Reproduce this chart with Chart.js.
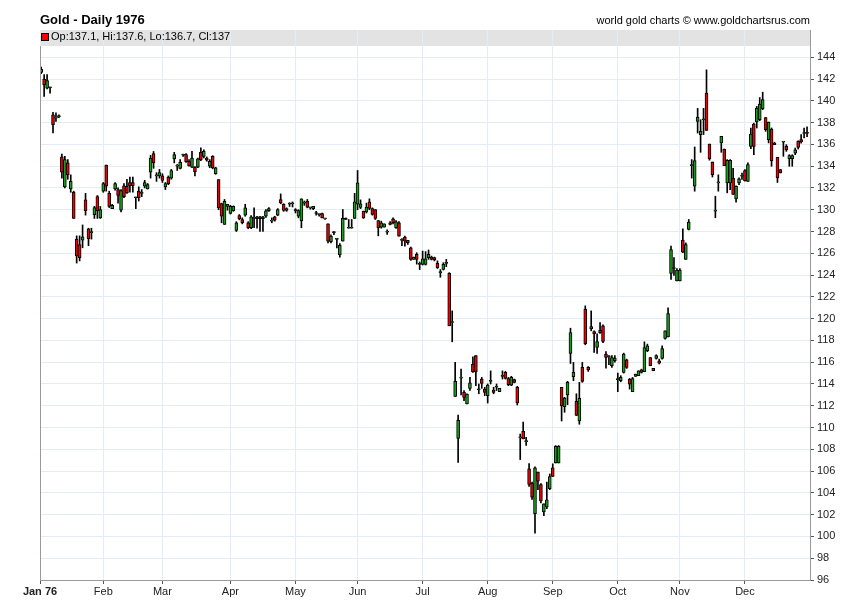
<!DOCTYPE html>
<html>
<head>
<meta charset="utf-8">
<title>Gold - Daily 1976</title>
<script src="https://cdn.jsdelivr.net/npm/chart.js@4.4.1/dist/chart.umd.min.js"></script>
<style>
  html, body { margin: 0; padding: 0; background: #fff; }
  #wrap { width: 850px; height: 616px; }
</style>
</head>
<body>
<div id="wrap"><canvas id="chart-gold" width="850" height="616"></canvas></div>
<script>
// daily OHLC, 1976, one entry per trading day
const opens = [
  142.6, 142.0, 141.15, 141.2, 138.7, 138.4, 138.55, 134.85, 132.1, 134.3,
  131.9, 131.6, 127.3, 126.8, 127.2, 130.9, 128.25, 127.9, 129.55, 131.2,
  129.25, 131.7, 134.1, 131.5, 130.1, 131.9, 131.85, 129.95, 132.2, 132.15,
  132.5, 132.5, 131.1, 131.7, 131.5, 132.15, 131.9, 133.45, 135.15, 133.1,
  133.1, 133.1, 132.1, 133.0, 132.9, 134.66, 134.0, 133.8, 135.0, 135.05,
  134.45, 133.9, 133.9, 133.9, 135.27, 134.9, 134.75, 134.0, 134.9, 133.3,
  132.77, 130.57, 128.65, 130.3, 129.65, 129.9, 128.1, 129.47, 129.1, 129.5,
  128.8, 128.34, 129.2, 129.35, 129.35, 129.35, 129.4, 129.9, 128.95, 129.35,
  129.5, 130.93, 130.5, 129.93, 130.5, 130.55, 130.0, 129.4, 129.0, 130.6,
  130.78, 130.17, 130.1, 129.65, 129.55, 129.65, 129.16, 128.7, 127.06, 127.9,
  127.27, 125.84, 127.12, 129.2, 128.3, 128.3, 129.2, 130.5, 130.2, 129.87,
  129.8, 130.72, 130.1, 130.0, 129.0, 128.4, 128.4, 127.94, 128.8, 129.16,
  128.34, 128.8, 127.18, 127.49, 127.18, 126.5, 125.44, 125.9, 124.98, 124.98,
  124.98, 125.6, 125.65, 125.6, 125.07, 124.22, 124.52, 125.07, 124.16, 119.64,
  112.86, 109.0, 114.54, 113.23, 112.16, 113.6, 115.8, 116.6, 113.47, 114.45,
  113.53, 112.92, 114.24, 113.44, 113.7, 113.3, 114.7, 115.06, 114.5, 113.9,
  114.4, 113.68, 109.05, 109.66, 108.7, 106.2, 104.9, 102.1, 105.9, 104.77,
  102.24, 102.7, 104.38, 106.3, 106.74, 106.74, 113.69, 111.92, 113.0, 116.8,
  114.66, 112.4, 110.6, 115.52, 120.86, 115.52, 119.06, 118.81, 117.35, 118.93,
  119.33, 116.74, 116.5, 115.67, 116.13, 114.4, 114.3, 115.06, 116.22, 114.45,
  113.29, 114.7, 114.76, 115.3, 115.12, 117.05, 116.43, 115.43, 116.34, 116.13,
  116.34, 118.18, 118.33, 124.16, 124.6, 123.45, 123.45, 127.2, 125.44, 128.2,
  134.05, 132.16, 138.1, 136.89, 138.26, 140.7, 136.03, 134.38, 129.87, 132.46,
  136.13, 135.57, 132.46, 132.46, 132.9, 131.0, 132.46, 133.07, 133.59, 132.6,
  135.8, 137.86, 138.05, 138.26, 139.27, 138.47, 136.43, 137.4, 136.12, 134.81,
  133.68, 136.2, 135.82, 134.69, 134.69, 135.2, 136.27, 136.43, 137.0, 137.1
];
const highs = [
  143.1, 142.4, 142.4, 141.25, 138.95, 138.9, 138.7, 135.1, 134.9, 134.6,
  133.2, 131.7, 127.6, 127.6, 128.6, 131.5, 128.3, 128.3, 130.3, 131.3,
  130.3, 132.5, 134.1, 131.7, 130.5, 132.5, 132.0, 131.85, 132.4, 132.8,
  133.0, 133.0, 131.15, 132.1, 131.85, 132.7, 132.4, 135.0, 135.35, 133.4,
  133.7, 133.3, 132.5, 133.1, 133.7, 135.27, 134.15, 134.6, 135.1, 135.15,
  134.6, 135.36, 133.95, 134.75, 135.67, 135.5, 134.85, 134.6, 134.96, 133.9,
  132.77, 130.6, 130.94, 130.5, 130.4, 130.35, 128.9, 129.55, 129.25, 130.5,
  128.9, 129.47, 130.17, 129.4, 129.4, 129.4, 130.0, 130.2, 129.25, 129.4,
  130.1, 131.45, 130.55, 130.17, 130.65, 130.72, 130.1, 130.0, 131.0, 130.8,
  130.94, 130.23, 130.3, 129.85, 129.6, 129.7, 129.2, 128.7, 127.7, 128.0,
  127.27, 126.88, 130.02, 129.25, 129.1, 129.1, 131.5, 133.6, 130.9, 129.87,
  130.6, 131.0, 130.17, 130.0, 129.0, 128.95, 128.7, 128.15, 128.9, 129.25,
  129.0, 128.9, 127.36, 127.58, 127.18, 126.57, 125.65, 126.05, 125.2, 126.2,
  126.15, 126.3, 125.74, 125.65, 125.3, 124.5, 125.13, 125.44, 124.22, 120.71,
  115.98, 111.15, 115.37, 113.4, 113.1, 114.6, 116.5, 116.6, 114.0, 114.6,
  113.7, 114.0, 115.2, 113.7, 114.0, 113.6, 115.2, 115.15, 114.6, 114.7,
  114.45, 113.78, 109.4, 110.5, 109.1, 106.7, 105.0, 106.4, 105.9, 104.85,
  103.0, 104.99, 105.74, 106.67, 108.34, 108.34, 113.69, 112.77, 114.24, 119.12,
  115.98, 113.1, 114.15, 115.98, 121.17, 115.6, 120.71, 118.87, 118.6, 119.64,
  119.43, 116.98, 116.6, 116.6, 116.6, 115.0, 114.76, 116.83, 116.28, 114.5,
  114.6, 114.9, 115.21, 115.36, 117.87, 117.66, 116.43, 115.43, 116.68, 116.28,
  117.5, 118.87, 121.0, 126.66, 125.6, 124.6, 124.6, 128.25, 126.95, 129.1,
  134.6, 135.76, 139.3, 138.26, 139.3, 142.84, 136.03, 134.38, 131.24, 133.2,
  136.73, 135.57, 134.6, 134.6, 133.8, 132.2, 132.92, 133.37, 133.68, 134.3,
  137.5, 137.95, 139.48, 140.3, 140.79, 138.47, 138.05, 137.5, 136.2, 134.81,
  133.7, 136.27, 135.97, 135.05, 135.05, 135.66, 136.33, 136.9, 137.5, 137.6
];
const lows = [
  142.5, 140.4, 141.1, 140.7, 137.05, 138.1, 138.45, 132.9, 132.0, 132.8,
  131.6, 129.2, 125.1, 125.3, 126.5, 129.5, 126.7, 127.3, 129.2, 129.2,
  129.2, 131.6, 131.7, 130.2, 130.1, 131.8, 130.6, 129.8, 131.1, 131.5,
  131.6, 131.6, 130.1, 130.8, 131.2, 132.0, 131.9, 132.9, 133.8, 132.6,
  132.9, 132.5, 131.85, 132.3, 132.8, 134.3, 133.6, 133.75, 134.9, 134.35,
  134.0, 133.85, 133.1, 133.85, 134.5, 134.75, 134.45, 133.85, 133.75, 133.25,
  130.0, 128.8, 128.65, 129.95, 129.6, 129.85, 128.0, 129.07, 128.7, 129.4,
  128.25, 128.25, 128.34, 128.3, 128.0, 128.0, 129.3, 129.85, 128.8, 128.95,
  129.45, 130.54, 129.85, 129.85, 130.3, 130.25, 129.7, 129.25, 128.34, 130.4,
  130.17, 130.05, 130.0, 129.5, 129.4, 129.25, 129.1, 126.94, 126.94, 127.7,
  126.5, 125.65, 127.12, 129.1, 128.3, 128.3, 129.2, 130.0, 130.1, 129.2,
  129.7, 130.0, 129.5, 129.1, 127.6, 128.3, 128.4, 127.73, 128.6, 128.7,
  128.28, 127.58, 126.7, 126.66, 126.82, 125.35, 125.44, 125.0, 124.5, 124.92,
  124.92, 125.44, 125.38, 125.3, 124.6, 123.8, 124.46, 124.77, 119.34, 117.87,
  112.86, 106.8, 112.99, 112.47, 112.16, 113.4, 115.05, 113.84, 113.1, 113.6,
  112.92, 112.25, 114.0, 113.1, 113.4, 113.3, 114.45, 114.45, 113.84, 113.84,
  114.1, 112.07, 107.06, 108.96, 108.35, 104.6, 103.4, 100.3, 104.3, 103.07,
  101.9, 102.55, 104.3, 105.5, 106.74, 106.74, 110.6, 111.4, 112.1, 115.88,
  114.3, 111.1, 110.3, 114.15, 117.6, 115.15, 118.88, 116.9, 116.8, 118.64,
  117.8, 115.46, 115.76, 115.52, 116.0, 113.29, 114.2, 115.0, 115.43, 113.53,
  113.29, 114.7, 114.76, 115.0, 115.12, 116.96, 115.67, 115.21, 116.28, 115.83,
  116.28, 118.12, 118.33, 123.6, 123.97, 123.45, 123.45, 126.05, 125.44, 128.14,
  132.9, 131.7, 137.04, 135.27, 136.9, 137.28, 134.55, 133.0, 129.26, 131.7,
  135.27, 134.05, 131.55, 131.85, 131.4, 130.7, 132.3, 132.77, 132.61, 132.6,
  135.6, 135.05, 137.5, 138.17, 139.18, 137.2, 136.13, 133.99, 135.97, 132.5,
  133.37, 134.9, 135.36, 133.99, 133.99, 135.05, 135.57, 136.12, 136.6, 136.7
];
const closes = [
  142.9, 141.45, 141.85, 141.2, 137.8, 138.5, 138.6, 133.45, 134.6, 133.2,
  132.6, 129.2, 125.75, 125.6, 127.5, 129.9, 127.35, 127.95, 130.2, 129.9,
  130.0, 132.4, 132.15, 130.3, 130.4, 132.4, 131.3, 131.75, 131.2, 131.55,
  132.2, 132.2, 131.1, 131.1, 131.6, 132.5, 132.3, 134.75, 134.3, 133.1,
  133.4, 132.7, 132.4, 132.4, 133.6, 135.05, 134.0, 134.35, 135.0, 134.4,
  134.05, 134.75, 133.5, 134.66, 134.6, 135.36, 134.54, 134.45, 133.84, 133.84,
  130.17, 129.41, 130.78, 130.5, 130.3, 130.3, 128.8, 129.16, 128.8, 130.17,
  128.34, 129.35, 129.2, 129.17, 129.17, 129.17, 129.9, 130.1, 128.95, 129.05,
  130.0, 130.63, 129.93, 130.1, 130.5, 130.55, 129.9, 129.93, 131.0, 130.6,
  130.23, 130.17, 130.3, 129.65, 129.55, 129.25, 129.16, 127.1, 127.58, 128.0,
  127.27, 126.72, 129.2, 129.1, 128.3, 128.3, 130.72, 132.46, 130.54, 129.25,
  130.23, 130.11, 129.56, 129.2, 128.34, 128.8, 128.7, 127.94, 128.66, 128.8,
  128.89, 127.58, 127.18, 127.12, 126.97, 125.44, 125.65, 125.44, 124.98, 125.5,
  125.5, 125.9, 125.44, 125.4, 124.68, 124.22, 124.98, 125.07, 119.34, 119.64,
  114.24, 110.67, 114.54, 112.77, 113.08, 114.1, 115.1, 115.1, 113.47, 114.05,
  113.23, 113.9, 114.24, 113.23, 113.7, 113.6, 114.7, 114.5, 113.93, 114.6,
  114.15, 112.25, 109.05, 108.96, 108.7, 104.77, 103.6, 106.3, 105.08, 103.25,
  103.0, 103.37, 105.5, 105.5, 108.28, 108.28, 112.0, 112.71, 114.15, 118.72,
  115.06, 111.1, 112.68, 114.24, 117.7, 115.3, 119.27, 118.6, 117.9, 118.72,
  117.9, 116.43, 116.5, 116.43, 116.37, 114.4, 114.6, 116.74, 115.52, 113.99,
  114.5, 114.9, 115.21, 115.06, 117.35, 117.5, 115.67, 115.21, 116.6, 115.92,
  117.26, 118.87, 120.47, 126.35, 124.6, 124.46, 124.46, 126.1, 126.8, 128.86,
  134.05, 134.5, 138.5, 137.2, 138.26, 137.28, 134.66, 133.22, 129.87, 132.46,
  136.73, 134.05, 134.54, 134.54, 131.4, 132.15, 132.83, 133.07, 132.67, 134.14,
  136.94, 135.8, 139.33, 139.7, 140.1, 137.34, 138.05, 134.5, 135.97, 132.92,
  133.37, 136.2, 135.5, 134.96, 134.96, 135.5, 135.72, 136.22, 137.05, 137.0
];

// x axis: index of the first trading day of each month
const monthStarts = [0, 21, 41, 64, 86, 107, 129, 151, 173, 195, 216, 238];
const monthLabels = ['Jan 76', 'Feb', 'Mar', 'Apr', 'May', 'Jun', 'Jul', 'Aug', 'Sep', 'Oct', 'Nov', 'Dec'];
const yTickValues = [96, 98, 100, 102, 104, 106, 108, 110, 112, 114, 116, 118, 120,
  122, 124, 126, 128, 130, 132, 134, 136, 138, 140, 142, 144];

const TITLE  = 'Gold - Daily 1976';
const CREDIT = 'world gold charts \u00a9 www.goldchartsrus.com';

const UP_COLOR   = '#16a016';
const DOWN_COLOR = '#ee0000';
const GRID_COLOR = '#e2edf7';
const AXIS_COLOR = '#9a9a9a';
const FONT = 'Arial, "Liberation Sans", sans-serif';

Chart.defaults.font.family = FONT;
Chart.defaults.color = '#222';

const last = closes.length - 1;
const headerText = `Op:${opens[last]}, Hi:${highs[last]}, Lo:${lows[last]}, Cl:${closes[last]}`;

const frame = {
  id: 'frame',
  beforeDraw(chart) {
    const { ctx, chartArea: a } = chart;
    ctx.save();
    ctx.fillStyle = '#fff';
    ctx.fillRect(0, 0, chart.width, chart.height);
    ctx.fillStyle = '#e3e3e3';
    ctx.fillRect(a.left, a.top, a.right - a.left, 16);
    ctx.restore();
  },
  afterDraw(chart) {
    const { ctx, chartArea: a } = chart;
    ctx.save();
    // left axis line
    ctx.strokeStyle = AXIS_COLOR;
    ctx.lineWidth = 1;
    ctx.beginPath();
    ctx.moveTo(a.left + 0.5, a.top + 16);
    ctx.lineTo(a.left + 0.5, a.bottom);
    ctx.stroke();

    ctx.textBaseline = 'middle';
    ctx.fillStyle = '#000';
    ctx.font = `bold 13px ${FONT}`;
    ctx.textAlign = 'left';
    ctx.fillText(TITLE, 40, 20);

    ctx.font = `11px ${FONT}`;
    ctx.textAlign = 'right';
    ctx.fillText(CREDIT, 810, 21);

    // last bar legend in the header strip
    const lastUp = closes[last] >= opens[last];
    ctx.fillStyle = lastUp ? UP_COLOR : DOWN_COLOR;
    ctx.fillRect(42, 34, 6, 6);
    ctx.strokeStyle = '#000';
    ctx.strokeRect(41.5, 33.5, 7, 7);
    ctx.fillStyle = '#000';
    ctx.textAlign = 'left';
    ctx.font = `11px ${FONT}`;
    ctx.fillText(headerText, 51, 37);
    ctx.restore();
  },
};

const bodyColors = closes.map((c, i) => c >= opens[i] ? UP_COLOR : DOWN_COLOR);

new Chart(document.getElementById('chart-gold'), {
  type: 'bar',
  data: {
    datasets: [
      {
        label: 'body',
        data: closes.map((c, i) => ({ x: i, y: [opens[i], c] })),
        backgroundColor: bodyColors,
        borderColor: '#000',
        borderWidth: 1,
        borderSkipped: false,
        barThickness: 3,
        minBarLength: 1,
        grouped: false,
        order: 0,
      },
      {
        label: 'range',
        data: highs.map((h, i) => ({ x: i, y: [lows[i], h] })),
        backgroundColor: '#000',
        borderWidth: 0,
        barThickness: 1,
        minBarLength: 1,
        grouped: false,
        order: 1,
      },
    ],
  },
  options: {
    responsive: false,
    animation: false,
    devicePixelRatio: 1,
    layout: { padding: { left: 40, top: 30, right: 0, bottom: 0 } },
    plugins: { legend: { display: false }, tooltip: { enabled: false } },
    scales: {
      x: {
        type: 'linear',
        min: -0.4,
        max: 260,
        offset: false,
        afterFit: s => { s.height = 36; },
        afterBuildTicks: s => {
          s.ticks = monthStarts.map((v, i) => ({ value: i === 0 ? s.min : v }));
        },
        grid: { offset: false, color: GRID_COLOR, tickColor: '#555', tickLength: 4, drawTicks: true },
        border: { display: true, color: AXIS_COLOR },
        ticks: {
          autoSkip: false,
          maxRotation: 0,
          padding: 1,
          color: '#222',
          font: c => ({ size: 11, weight: c.index === 0 ? 'bold' : 'normal' }),
          callback: (v, i) => monthLabels[i],
        },
      },
      y: {
        position: 'right',
        min: 96,
        max: 146.5,
        afterFit: s => { s.width = 40; },
        afterBuildTicks: s => { s.ticks = yTickValues.map(v => ({ value: v })); },
        grid: { color: GRID_COLOR, tickColor: '#555', tickLength: 4 },
        border: { display: true, color: AXIS_COLOR },
        ticks: { padding: 3, color: '#222', font: { size: 11 } },
      },
    },
  },
  plugins: [frame],
});
</script>
</body>
</html>
